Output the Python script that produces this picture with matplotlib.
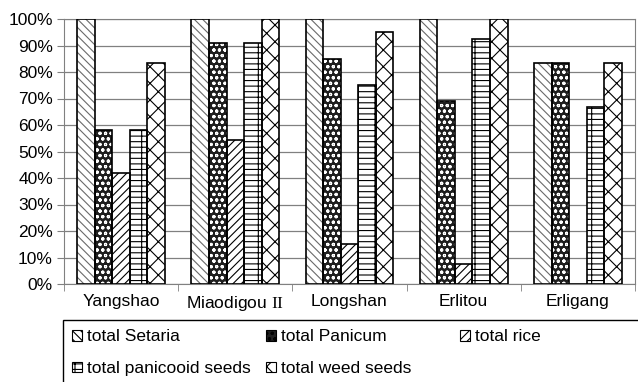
import numpy as np
import matplotlib.pyplot as plt

plt.rcParams['font.family'] = ['Liberation Sans', 'DejaVu Sans']
plt.rcParams['mathtext.fontset'] = 'custom'
plt.rcParams['mathtext.rm'] = 'Liberation Serif'
plt.rcParams['hatch.linewidth'] = 0.8

sites = ['Yangshao', 'Miaodigou $\\mathrm{II}$', 'Longshan', 'Erlitou', 'Erligang']
series = ['total Setaria', 'total Panicum', 'total rice',
          'total panicooid seeds', 'total weed seeds']
setaria = [100, 100, 100, 100, 83.3]
panicum = [58.3, 90.9, 85.0, 69.2, 83.3]
rice = [41.7, 54.5, 15.0, 7.7, 0]
panicoid = [58.3, 90.9, 75.0, 92.3, 66.7]
weed = [83.3, 100, 95.0, 100, 83.3]
values = [setaria, panicum, rice, panicoid, weed]

# fill, hatch colour, hatch for each series
styles = [('white', '#6a6a6a', '\\\\\\\\'),
          ('#1e1e1e', 'white', 'ooo'),
          ('white', 'black', '////'),
          ('white', 'black', '---|'),
          ('white', 'black', 'xx')]

fs = 12.5
fig = plt.figure(figsize=(6.38, 3.82), dpi=100)
ax = fig.add_axes([64/638, 1 - 284/382, 571/638, 265/382])

x = np.arange(len(sites))
w = 0.154
handles = []
for i, (vals, (fc, hc, h)) in enumerate(zip(values, styles)):
    pos = x + (i - 2) * w
    ax.bar(pos, vals, w, color=fc, edgecolor=hc, hatch=h, linewidth=0, zorder=3)
    ax.bar(pos, vals, w, fill=False, edgecolor='black', linewidth=1.2, zorder=4)
    handles.append(plt.Rectangle((0, 0), 1, 1, facecolor=fc, edgecolor='black',
                                 hatch=h, linewidth=0.8, label=series[i]))

ax.set_ylim(0, 100)
ax.set_xlim(-0.5, len(sites) - 0.5)
ax.set_yticks(np.arange(0, 101, 10))
ax.set_yticklabels([f'{v}%' for v in range(0, 101, 10)], fontsize=fs)
ax.yaxis.grid(True, color='#808080', linewidth=0.9, zorder=0)
ax.set_xticks(x)
ax.set_xticklabels(sites, fontsize=fs)
ax.set_xticks(np.arange(-0.5, len(sites)), minor=True)
ax.tick_params(axis='x', which='major', length=0, pad=7)
ax.tick_params(axis='x', which='minor', length=5, color='#808080')
ax.tick_params(axis='y', length=5, color='#808080', pad=3)
for s in ax.spines.values():
    s.set_color('#808080')

# legend box under the plot (runs off the bottom and right edge)
fig.patches.append(plt.Rectangle((63/638, -0.2), 0.95, 1.2 - 320/382,
                                 transform=fig.transFigure, fill=False,
                                 edgecolor='black', linewidth=1.0))
columns = [[0, 3], [1, 4], [2]]
col_x = [69, 263, 457]
for cx, idx in zip(col_x, columns):
    fig.legend([handles[k] for k in idx], [series[k] for k in idx],
               loc='upper left', bbox_to_anchor=(cx/638, 1 - 326/382),
               frameon=False, fontsize=fs, handlelength=0.55, handleheight=0.55,
               handletextpad=0.3, labelspacing=0.95, borderaxespad=0, borderpad=0.2)

fig.savefig('out.png', dpi=100)
